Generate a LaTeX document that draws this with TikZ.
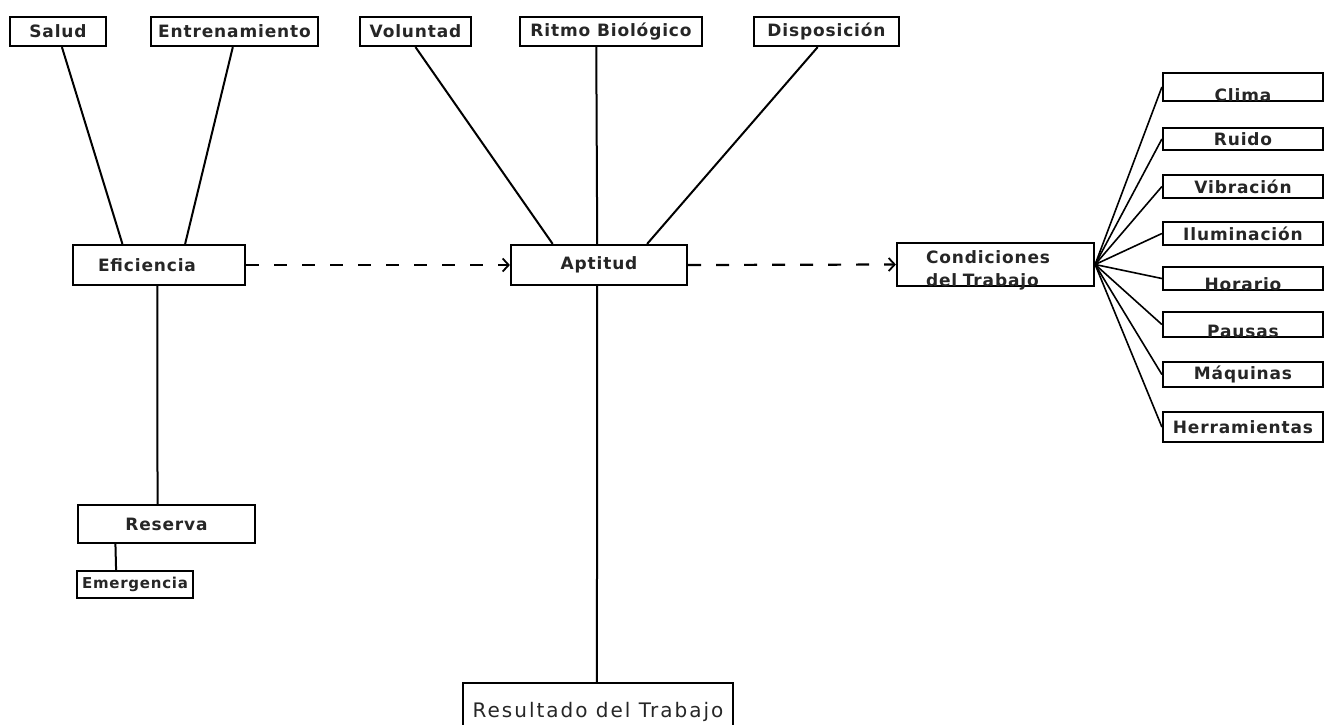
\documentclass[tikz,border=0pt]{standalone}
\usepackage{fontspec}
\setmainfont{DejaVu Sans}
\newfontfamily\lblfont[LetterSpace=5]{DejaVu Sans}
\newfontfamily\bigfont[LetterSpace=10]{DejaVu Sans}
\usetikzlibrary{arrows.meta,calc}

\tikzset{
  box/.style={draw=black, line width=2.2pt, fill=white, inner sep=0pt,
    text=black!85, font=\lblfont\bfseries\fontsize{17pt}{20pt}\selectfont},
  onbase/.style={text height=#1, text depth=0pt},
  link/.style={line width=2pt, draw=black},
  fanlink/.style={line width=1.6pt, draw=black},
  flow/.style={line width=2.2pt, dash pattern=on 13pt off 15pt,
    -{Straight Barb[length=6pt,width=13pt,line width=1.8pt]}},
}

\begin{document}
\begin{tikzpicture}[x=1pt,y=-1pt]
\useasboundingbox (0,0) rectangle (1330,724);
\clip (0,0) rectangle (1330,724);
\fill[white] (0,0) rectangle (1330,724);

% top row of factors
\node[box, minimum width=96pt,  minimum height=29pt] (salud) at (58,31.5) {Salud};
\node[box, minimum width=167pt, minimum height=29pt] (entr)  at (234.5,31.5) {Entrenamiento};
\node[box, minimum width=111pt, minimum height=29pt] (vol)   at (415.5,31.5) {Voluntad};
\node[box, minimum width=182pt, minimum height=29pt] (ritmo) at (611,31.5) {Ritmo Biológico};
\node[box, minimum width=145pt, minimum height=29pt] (disp)  at (826.5,31.5) {Disposición};

% main row
\node[box, minimum width=172pt, minimum height=40pt, text width=122pt, align=left] (eff) at (159,265) {Eficiencia};
\node[box, minimum width=176pt, minimum height=40pt] (apt) at (599,265) {Aptitud};
\node[box, minimum width=197pt, minimum height=43pt, text width=139pt, align=left,
      text height=20pt, text depth=23pt,
      font=\lblfont\bfseries\fontsize{17pt}{23pt}\selectfont] (cond) at (995.5,264.5)
      {Condiciones\\del Trabajo};

% reserve branch
\node[box, minimum width=177pt, minimum height=38pt] (res) at (166.5,524) {Reserva};
\node[box, minimum width=116pt, minimum height=27pt,
      font=\lblfont\bfseries\fontsize{15pt}{18pt}\selectfont] (emer) at (135,584.5) {Emergencia};

% result
\node[box, minimum width=270pt, minimum height=57pt,
      font=\bigfont\fontsize{20pt}{24pt}\selectfont] (resul) at (598,711.5) {Resultado del Trabajo};

% working conditions
\node[box, minimum width=160pt, minimum height=28pt, onbase=28pt] (clima) at (1243,87) {Clima};
\node[box, minimum width=160pt, minimum height=22pt] (ruido) at (1243,139) {Ruido};
\node[box, minimum width=160pt, minimum height=23pt] (vib)   at (1243,186.5) {Vibración};
\node[box, minimum width=160pt, minimum height=23pt] (ilum)  at (1243,233.5) {Iluminación};
\node[box, minimum width=160pt, minimum height=23pt, onbase=23pt] (hor)  at (1243,278.5) {Horario};
\node[box, minimum width=160pt, minimum height=25pt, onbase=25pt] (paus) at (1243,324.5) {Pausas};
\node[box, minimum width=160pt, minimum height=25pt] (maq)   at (1243,374.5) {Máquinas};
\node[box, minimum width=160pt, minimum height=30pt] (herr)  at (1243,427) {Herramientas};

% connectors into Eficiencia
\draw[link] ($(salud.south west)!0.54!(salud.south east)$) -- ($(eff.north west)!0.29!(eff.north east)$);
\draw[link] ($(entr.south west)!0.49!(entr.south east)$) -- ($(eff.north west)!0.65!(eff.north east)$);
% connectors into Aptitud
\draw[link] ($(vol.south west)!0.50!(vol.south east)$) -- ($(apt.north west)!0.24!(apt.north east)$);
\draw[link] ($(ritmo.south west)!0.42!(ritmo.south east)$) -- ($(apt.north west)!0.49!(apt.north east)$);
\draw[link] ($(disp.south west)!0.44!(disp.south east)$) -- ($(apt.north west)!0.77!(apt.north east)$);
% downward links
\draw[link] ($(apt.south west)!0.49!(apt.south east)$) -- ($(resul.north west)!0.496!(resul.north east)$);
\draw[link] ($(eff.south west)!0.49!(eff.south east)$) -- ($(res.north west)!0.45!(res.north east)$);
\draw[link] ($(res.south west)!0.215!(res.south east)$) -- ($(emer.north west)!0.34!(emer.north east)$);

% flow between the main boxes
\draw[flow] (eff.east) -- (apt.west);
\draw[flow] (apt.east) -- (cond.west);

% fan to the working conditions
\foreach \n in {clima,ruido,vib,ilum,hor,paus,maq,herr}
  \draw[fanlink] (cond.east) -- (\n.west);
\end{tikzpicture}
\end{document}
